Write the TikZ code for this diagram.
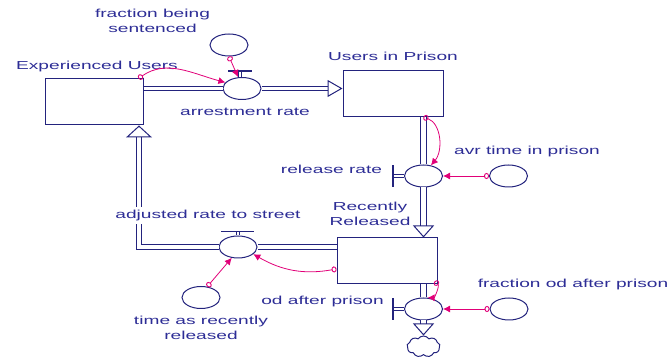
\documentclass[tikz,border=0pt]{standalone}
\usepackage{fontspec}
\setmainfont{Liberation Sans}
\usepackage{graphicx}
\usepackage{tikz}
\usetikzlibrary{positioning,shapes.geometric,shapes.symbols,arrows.meta}
\definecolor{navy}{RGB}{35,35,125}
\definecolor{labelblue}{RGB}{45,45,150}
\definecolor{linkpink}{RGB}{225,0,120}
\newcommand{\wide}[1]{\scalebox{1.65}[1]{\begin{tabular}{@{}c@{}}#1\end{tabular}}}

\begin{document}
\begin{tikzpicture}[%
  x=1pt, y=1pt,
  stock/.style={
    draw=navy, line width=1pt, rectangle,
    minimum width=98pt, minimum height=46pt, inner sep=0pt},
  valve/.style={
    draw=navy, line width=1pt, ellipse,
    minimum width=38pt, minimum height=22pt, inner sep=0pt},
  aux/.style={valve},
  lbl/.style={
    text=labelblue, font=\fontsize{11.6}{15}\selectfont,
    fill=white, inner sep=1pt, anchor=center},
  pipe/.style={draw=navy, line width=0.9pt, double=white, double distance=3.5pt},
  vpipe/.style={pipe, double distance=5pt},
  hflow/.style={-{Triangle[open, line width=1pt, length=15pt, width=17pt]}},
  vflow/.style={-{Triangle[open, line width=1pt, length=12pt, width=21pt]}},
  bar/.style={draw=navy, line width=1.7pt},
  link/.style={
    draw=linkpink, line width=0.8pt,
    {Circle[open, length=5pt, width=6pt, line width=0.9pt]}-{Latex[length=7pt, width=7pt]}}
  ]
  \useasboundingbox (0,0) rectangle (669,358);
  %% Nodes
  \node[stock] (EU) at (94,256) {};
  \node[stock, minimum width=100pt] (UIP) at (393,264.5) {};
  \node[stock, minimum width=100pt] (RR) at (387,97) {};
  \node[valve] (AR) at (242,269.5) {};
  \node[valve] (REL) at (423.5,182) {};
  \node[valve] (ADJ) at (238,111) {};
  \node[valve] (OD) at (423.5,49) {};
  \node[aux] (FBS) at (229,313) {};
  \node[aux, right=46pt of REL] (AVR) {};
  \node[aux] (TARR) at (201,60.5) {};
  \node[aux, right=46.5pt of OD] (FOAP) {};
  \node[draw=navy, line width=1pt, cloud, cloud puffs=9, cloud puff arc=110,
        aspect=1.6, minimum width=33pt, minimum height=21pt, inner sep=0pt]
        (sink) at (423.5,11.5) {};
  %% Pipes
  \draw[pipe] (EU.east |- AR.west) -- (AR.west);
  \draw[pipe, hflow] (AR.east) -- (AR.east -| UIP.west);
  \draw[vpipe] (UIP.south -| REL.north) -- (REL.north);
  \draw[vpipe, vflow] (REL.south) -- (REL.south |- RR.north);
  \draw[vpipe] (RR.south -| OD.north) -- (OD.north);
  \draw[vpipe, vflow] (OD.south) -- (sink.north);
  \draw[pipe] (RR.west |- ADJ.east) -- (ADJ.east);
  \draw[pipe, double distance=4.5pt, vflow, -{Triangle[open, line width=1pt, length=12pt, width=26pt]}]
    (ADJ.west) -| ([xshift=-4.5pt]EU.south east);
  %% Valve handles
  \draw[pipe, double distance=2.5pt] ([xshift=-2pt]AR.north) -- ++(0,6pt);
  \draw[bar] ([shift={(-14pt,6pt)}]AR.north) -- ++(24pt,0);
  \draw[pipe, double distance=2.5pt] (ADJ.north) -- ++(0,4pt);
  \draw[bar] ([shift={(-17pt,4pt)}]ADJ.north) -- ++(33pt,0);
  \draw[pipe, double distance=2.5pt] (REL.west) -- ++(-11pt,0);
  \draw[bar] ([shift={(-11pt,-11pt)}]REL.west) -- ++(0,22pt);
  \draw[pipe, double distance=2.5pt] (OD.west) -- ++(-11pt,0);
  \draw[bar] ([shift={(-11pt,-11pt)}]OD.west) -- ++(0,22pt);
  %% Labels
  \node[above=12pt of EU.north, xshift=3pt, lbl] (EUlbl) {\wide{Experienced Users}};
  \node[above left=22.5pt and 76.5pt of FBS.center, lbl] (FBSlbl) {\wide{fraction being\\sentenced}};
  \node[below=13pt of AR.south, xshift=3pt, lbl] (ARlbl) {\wide{arrestment rate}};
  \node[above=12.5pt of UIP.north, lbl] (UIPlbl) {\wide{Users in Prison}};
  \node[above right=24pt and 18.5pt of AVR.center, lbl] (AVRlbl) {\wide{avr time in prison}};
  \node[above left=5pt and 72.5pt of REL.west, lbl] (RELlbl) {\wide{release rate}};
  \node[above left=22.5pt and 17pt of RR.north, lbl] (RRlbl) {\wide{Recently\\Released}};
  \node[above left=20pt and 30pt of ADJ.north, lbl] (ADJlbl) {\wide{adjusted rate to street}};
  \node[below=20.5pt of TARR.south, lbl] (TARRlbl) {\wide{time as recently\\released}};
  \node[above left=7pt and 101pt of OD.center, lbl] (ODlbl) {\wide{od after prison}};
  \node[above right=24pt and 64pt of FOAP.center, lbl] (FOAPlbl) {\wide{fraction od after prison}};
  %% Links
  \draw[link] (FBS.south) -- ([xshift=-4pt]AR.north);
  \draw[link] ([xshift=-5pt]EU.north east) to[out=35,in=165] (AR.160);
  \draw[link] (UIP.south -| REL.north) to[out=-20,in=50] (REL.55);
  \draw[link] (AVR.west) -- (REL.east);
  \draw[link] ([shift={(-3pt,3pt)}]RR.south east) to[out=-40,in=0] (OD.70);
  \draw[link] (FOAP.west) -- (OD.east);
  \draw[link] ([yshift=-8pt]RR.west) to[out=190,in=-30] (ADJ.-25);
  \draw[link] (TARR.60) -- (ADJ.-120);
\end{tikzpicture}
\end{document}
